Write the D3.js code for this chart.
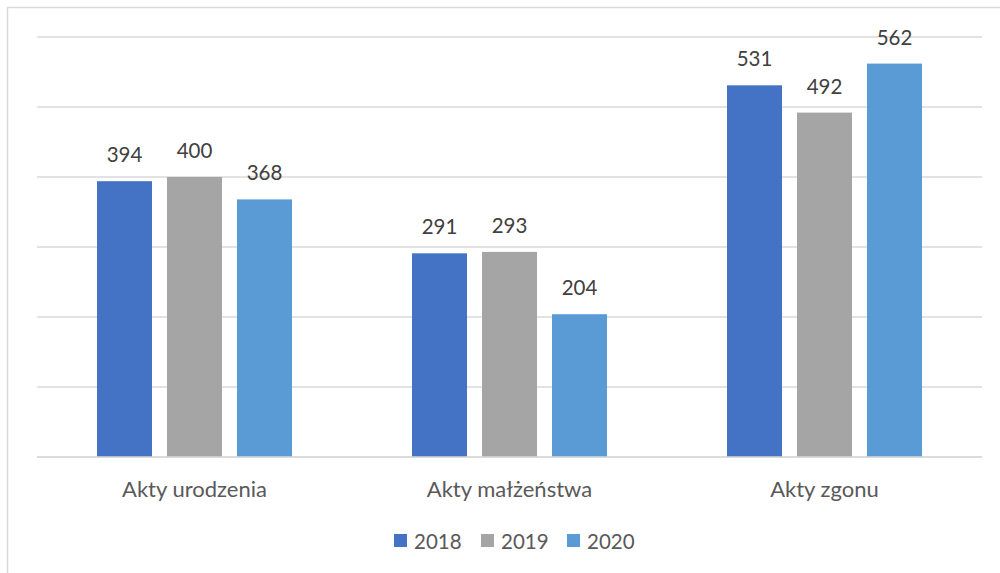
<!DOCTYPE html>
<html><head><meta charset="utf-8">
<script src="https://cdn.jsdelivr.net/npm/d3@7"></script>
<style>body{margin:0;background:#fff}svg{display:block}</style>
</head><body>
<script>
const categories = ["Akty urodzenia", "Akty małżeństwa", "Akty zgonu"];
const seriesNames = ["2018", "2019", "2020"];
const values2018 = [394, 291, 531];
const values2019 = [400, 293, 492];
const values2020 = [368, 204, 562];
const colors = ["#4472C4", "#A5A5A5", "#5B9BD5"];
const yTicks = [0, 100, 200, 300, 400, 500, 600];

const series = [values2018, values2019, values2020];
const W = 1000, H = 573;
const font = "Lato, 'Open Sans', sans-serif";
const textColor = "#595959";

const svg = d3.select("body").append("svg").attr("width", W).attr("height", H);

// chart border (only left and top visible)
svg.append("path").attr("d", "M7.5,573 L7.5,7.5 L1000,7.5")
  .attr("fill", "none").attr("stroke", "#d9d9d9").attr("stroke-width", 1.5);

const x0 = d3.scaleBand().domain(categories).range([37, 982]).paddingInner(0).paddingOuter(0);
const y = d3.scaleLinear().domain([0, 600]).range([457, 37]);

// gridlines
svg.append("g").selectAll("line").data(yTicks).join("line")
  .attr("x1", 37).attr("x2", 982)
  .attr("y1", d => y(d)).attr("y2", d => y(d))
  .attr("stroke", "#d9d9d9").attr("stroke-width", 1.3);

const barW = 55, step = 70;
const groups = svg.append("g").selectAll("g").data(categories).join("g");
groups.each(function(cat, ci) {
  const g = d3.select(this);
  const cx = x0(cat) + x0.bandwidth() / 2;
  series.forEach((vals, si) => {
    const bx = cx + (si - 1) * step - barW / 2;
    g.append("rect").attr("x", bx).attr("width", barW)
      .attr("y", y(vals[ci])).attr("height", y(0) - y(vals[ci]))
      .attr("fill", colors[si]);
    g.append("text").attr("x", bx + barW / 2).attr("y", y(vals[ci]) - 19)
      .attr("text-anchor", "middle").attr("font-family", font).attr("font-size", 20.5)
      .attr("fill", "#404040").text(vals[ci]);
  });
});

// baseline
svg.append("line").attr("x1", 37).attr("x2", 982).attr("y1", y(0)).attr("y2", y(0))
  .attr("stroke", "#d9d9d9").attr("stroke-width", 1.3);

// category axis labels
svg.append("g").selectAll("text").data(categories).join("text")
  .attr("x", d => x0(d) + x0.bandwidth() / 2).attr("y", 497)
  .attr("text-anchor", "middle").attr("font-family", font).attr("font-size", 22)
  .attr("fill", textColor).text(d => d);

// legend
const legendX = [394, 481, 567];
const leg = svg.append("g").selectAll("g").data(seriesNames).join("g")
  .attr("transform", (d, i) => `translate(${legendX[i]},534)`);
leg.append("rect").attr("width", 13).attr("height", 13).attr("fill", (d, i) => colors[i]);
leg.append("text").attr("x", 20).attr("y", 14.5).attr("font-family", font).attr("font-size", 20.5)
  .attr("fill", textColor).text(d => d);
</script>
</body></html>
